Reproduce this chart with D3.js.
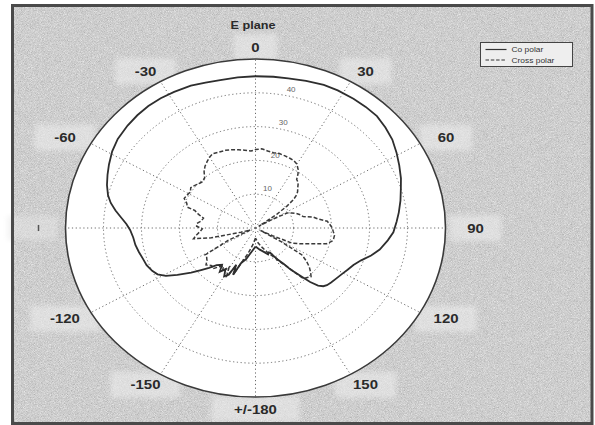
<!DOCTYPE html>
<html>
<head>
<meta charset="utf-8">
<script src="https://cdnjs.cloudflare.com/ajax/libs/d3/7.8.5/d3.min.js"></script>
<style>
  body { margin: 0; background: #fff; }
  svg { display: block; }
</style>
</head>
<body>
<svg id="chart" width="595" height="425"></svg>
<script>
// E plane pattern, dB from centre (0) to edge (50), angle clockwise from top
var coAngle = [-180,-172,-165,-160,-157,-155,-153,-150,-147,-144,-141,-137,-134,-131,-128,-124,-121,-118,-115,-111,-107,-103,-99,-95,-91,-88,-85,-82,-79,-76,-72,-68,-64,-59,-54,-48,-43,-38,-33,-28,-22,-17,-12,-6,0,6,11,17,23,28,34,39,44,49,54,59,64,69,73,78,83,87,92,96,101,105,109,113,117,121,125,129,132,134,136,138,140,143,145,148,150,152,154,157,162,170,180];
var coDb = [5.5,7,9.5,11,15,12,15.5,16.5,14.5,16,14,15,17,19,21.5,24.8,27.5,29.2,30,30.7,31,31.5,32,32.3,33,34,35.5,37.2,38.8,40,41.1,42,42.9,44,44.8,45.3,45.6,45.8,45.8,45.6,45.4,45,44.7,44.8,44.9,45,45.1,45.5,46,46.1,46.1,46.1,46,45.3,44.5,43.3,42.1,41,40,39,38,37.2,36.3,35,33.3,31.5,29.4,28,27.2,26.5,26,25.6,25.3,24.8,23.7,21.5,18.5,15.5,13,11,9.5,8.3,8,8.5,7.5,6.5,5.5];

var crossAngle = [-180,-172,-165,-160,-157,-155,-152,-149,-146,-143,-140,-137,-134,-130,-127,-124,-121,-117,-113,-108,-104,-101,-97,-94,-91,-88,-85,-82,-78,-75,-72,-71,-68,-65,-62,-58,-55,-52,-48,-45,-42,-39,-36,-33,-30,-27,-23,-19,-15,-11,-7,-3,0,4,8,12,16,20,24,27,30,33,35,37,40,43,46,48,50,52,54,56,58,60,62,65,68,72,75,78,81,84,87,90,93,96,99,101,104,106,109,112,115,117,119,121,123,126,129,132,134.5,137,140,142,144,147,151,156,163,171,180];
var crossDb = [3,5,8,11,15,13,16,13.5,15.5,14,15,16.5,16,17,16,15.5,15.5,8,1.5,4,12,16.6,15.5,14.6,14,15.5,15.5,14.5,14,15.5,16.8,19,19.5,20.7,20.5,20.2,20.8,20.4,19.8,19.5,20,21.5,22.6,23.4,24.2,24.7,24.4,24.3,24,23.6,23.2,22.8,23.2,23.5,23,22.8,22.9,22.7,22.5,22.3,21.8,20.6,19.5,18,17.5,16.3,15.4,14.5,13,10.5,7,3,1,5,9.5,10.5,11.5,12.5,13,15.5,16.8,19,19.6,20.2,20.5,20.9,20.8,20.5,19.3,17,14.3,12.5,10.5,5,1.5,8,14.5,16.5,18.2,19.5,20.5,20,19.5,16.5,14,12,9.7,8,6,4.5,3];

var ringDb = [10, 20, 30, 40];
var spokeAngles = [0, 30, 60, 90, 120, 150, 180, 210, 240, 270, 300, 330];
var tickAngles = [0, 30, 60, 90, 120, 150, 180, -150, -120, -60, -30];
var tickLabels = ["0", "30", "60", "90", "120", "150", "+/-180", "-150", "-120", "-60", "-30"];
var seriesNames = ["Co polar", "Cross polar"];

var svg = d3.select("#chart");
var cx = 255.5, cy = 228, rx = 190, ry = 169;

var rScale = d3.scaleLinear().domain([0, 50]).range([0, 1]);
var aScale = d3.scaleLinear().domain([-180, 180]).range([-Math.PI, Math.PI]);

function px(a, v) { return cx + rx * rScale(v) * Math.sin(aScale(a)); }
function py(a, v) { return cy - ry * rScale(v) * Math.cos(aScale(a)); }

var defs = svg.append("defs");
var grain = defs.append("filter").attr("id", "grain")
  .attr("x", 0).attr("y", 0).attr("width", "100%").attr("height", "100%")
  .attr("color-interpolation-filters", "sRGB");
grain.append("feTurbulence").attr("type", "fractalNoise")
  .attr("baseFrequency", 1.3).attr("numOctaves", 1).attr("seed", 4);
grain.append("feColorMatrix").attr("type", "matrix")
  .attr("values", "0.33 0.33 0.33 0 0  0.33 0.33 0.33 0 0  0.33 0.33 0.33 0 0  0 0 0 0 1");
var ct = grain.append("feComponentTransfer");
["feFuncR", "feFuncG", "feFuncB"].forEach(function(f) {
  ct.append(f).attr("type", "linear").attr("slope", 0.5).attr("intercept", 0.56);
});

var soft = defs.append("filter").attr("id", "soft");
soft.append("feGaussianBlur").attr("stdDeviation", 2.5);

// frame background with halftone-ish grain
svg.append("rect")
  .attr("x", 12.5).attr("y", 5.5).attr("width", 579.5).attr("height", 418)
  .attr("fill", "#cccccc")
  .attr("filter", "url(#grain)");

// lighter patches behind the angle labels
function labelPos(a) {
  var t = aScale(a);
  return [cx + (rx + 30) * Math.sin(t), cy - (ry + 12) * Math.cos(t)];
}

var labelG = svg.append("g");
tickAngles.forEach(function(a, i) {
  var p = labelPos(a);
  var w = tickLabels[i].length * 9 + 34;
  labelG.append("rect")
    .attr("x", p[0] - w / 2).attr("y", p[1] - 13)
    .attr("width", w).attr("height", 26)
    .attr("fill", "#ebebeb")
    .attr("opacity", 0.6)
    .attr("filter", "url(#soft)");
});
// faded remnant of the -90 label
var p90 = labelPos(-90);
labelG.append("rect")
  .attr("x", p90[0] - 28).attr("y", p90[1] - 12)
  .attr("width", 50).attr("height", 24)
  .attr("fill", "#e6e6e6").attr("opacity", 0.5)
  .attr("filter", "url(#soft)");
labelG.append("line")
  .attr("x1", p90[0] + 3).attr("x2", p90[0] + 3)
  .attr("y1", p90[1] - 3).attr("y2", p90[1] + 3)
  .attr("stroke", "#555").attr("stroke-width", 1.5);

// plot area
svg.append("ellipse")
  .attr("cx", cx).attr("cy", cy).attr("rx", rx).attr("ry", ry)
  .attr("fill", "#fff");

var grid = svg.append("g")
  .attr("stroke", "#6a6a6a")
  .attr("stroke-width", 1)
  .attr("stroke-dasharray", "1.2,2.6")
  .attr("fill", "none");

grid.selectAll("ellipse.ring")
  .data(ringDb)
  .enter().append("ellipse")
  .attr("class", "ring")
  .attr("cx", cx).attr("cy", cy)
  .attr("rx", function(d) { return rx * rScale(d); })
  .attr("ry", function(d) { return ry * rScale(d); });

grid.selectAll("line.spoke")
  .data(spokeAngles)
  .enter().append("line")
  .attr("class", "spoke")
  .attr("x1", cx).attr("y1", cy)
  .attr("x2", function(d) { return px(d, 50); })
  .attr("y2", function(d) { return py(d, 50); });

// ring labels
svg.append("g").selectAll("text")
  .data(ringDb)
  .enter().append("text")
  .attr("x", function(d) { return px(12, d) + 4; })
  .attr("y", function(d) { return py(12, d) - 7; })
  .attr("dy", "0.35em")
  .attr("text-anchor", "middle")
  .attr("font-family", "Liberation Sans, Arial, sans-serif")
  .attr("font-size", 8)
  .attr("fill", "#666")
  .text(function(d) { return d; });

// outer circle
svg.append("ellipse")
  .attr("cx", cx).attr("cy", cy).attr("rx", rx).attr("ry", ry)
  .attr("fill", "none")
  .attr("stroke", "#3a3a3a")
  .attr("stroke-width", 1.6);

// curves
var line = d3.line()
  .x(function(d) { return px(d[0], d[1]); })
  .y(function(d) { return py(d[0], d[1]); });

var coData = d3.zip(coAngle, coDb);
var crossData = d3.zip(crossAngle, crossDb);

svg.append("path")
  .datum(crossData)
  .attr("d", line)
  .attr("fill", "none")
  .attr("stroke", "#3a3a3a")
  .attr("stroke-width", 1.5)
  .attr("stroke-dasharray", "4,2");

svg.append("path")
  .datum(coData)
  .attr("d", line)
  .attr("fill", "none")
  .attr("stroke", "#2e2e2e")
  .attr("stroke-width", 1.8);

// angle labels
svg.append("g").selectAll("text")
  .data(tickAngles)
  .enter().append("text")
  .attr("transform", function(d) {
    var p = labelPos(d);
    return "translate(" + p[0] + "," + p[1] + ") scale(1.15,1)";
  })
  .attr("dy", "0.36em")
  .attr("text-anchor", "middle")
  .attr("font-family", "Liberation Sans, Arial, sans-serif")
  .attr("font-weight", "bold")
  .attr("font-size", 13)
  .attr("fill", "#2a2a2a")
  .text(function(d, i) { return tickLabels[i]; });

// title
svg.append("text")
  .attr("transform", "translate(253,25) scale(1.15,1)")
  .attr("dy", "0.36em")
  .attr("text-anchor", "middle")
  .attr("font-family", "Liberation Sans, Arial, sans-serif")
  .attr("font-weight", "bold")
  .attr("font-size", 11)
  .attr("fill", "#2a2a2a")
  .text("E plane");

// legend
var lg = svg.append("g").attr("transform", "translate(480.5,42.5)");
lg.append("rect")
  .attr("width", 92).attr("height", 24)
  .attr("fill", "#eeeeee")
  .attr("stroke", "#444")
  .attr("stroke-width", 1);
seriesNames.forEach(function(name, i) {
  var y = 7 + i * 10.5;
  lg.append("line")
    .attr("x1", 5).attr("x2", 26).attr("y1", y).attr("y2", y)
    .attr("stroke", "#333").attr("stroke-width", 1.2)
    .attr("stroke-dasharray", i === 1 ? "3.5,1.8" : null);
  lg.append("text")
    .attr("transform", "translate(31," + y + ") scale(1.12,1)")
    .attr("dy", "0.35em")
    .attr("font-family", "Liberation Sans, Arial, sans-serif")
    .attr("font-size", 7.5)
    .attr("fill", "#333")
    .text(name);
});

// frame border
svg.append("rect")
  .attr("x", 12.5).attr("y", 5.5).attr("width", 579.5).attr("height", 418)
  .attr("fill", "none")
  .attr("stroke", "#4a4a4a")
  .attr("stroke-width", 3);
</script>
</body>
</html>
